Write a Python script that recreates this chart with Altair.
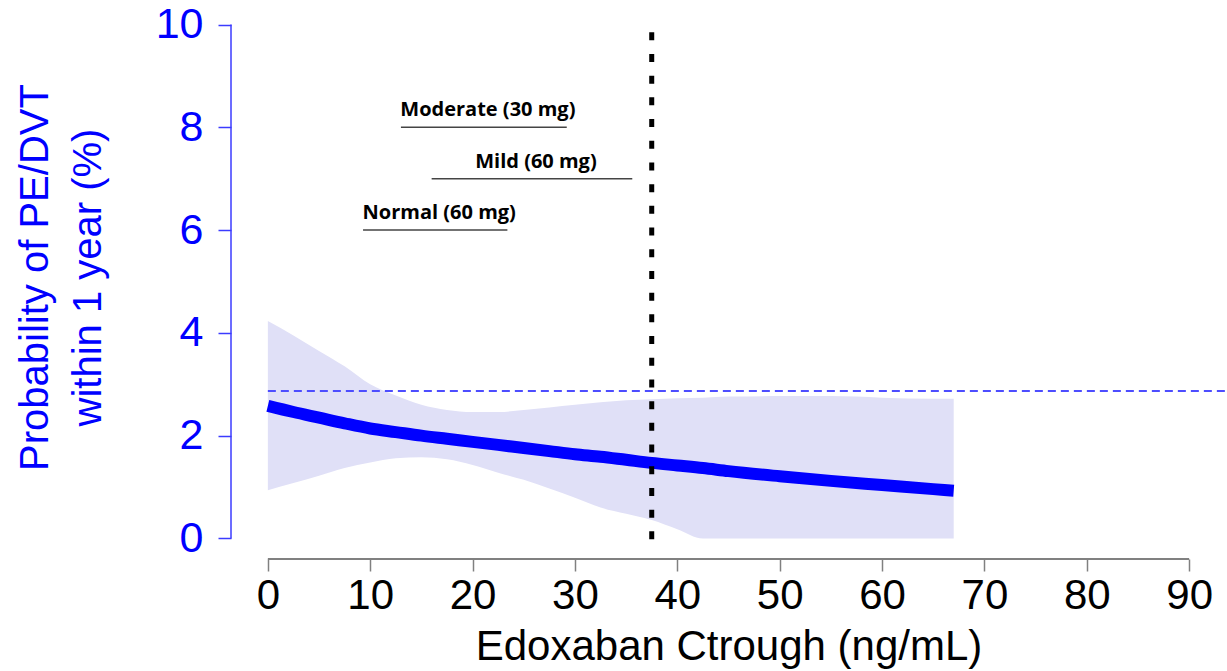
import altair as alt
import pandas as pd

# Edoxaban trough concentration grid (ng/mL)
ctrough = [0, 2.5, 5, 7.5, 10, 12.5, 15, 17.5, 20, 22.5, 25, 27.5, 30,
           32.5, 35, 37.5, 40, 42.5, 45, 50, 55, 60, 65, 67]
# Model-estimated 1-year probability of PE/DVT (%)
prob = [2.58, 2.46, 2.35, 2.24, 2.14, 2.07, 2.00, 1.94, 1.88, 1.82, 1.76, 1.70,
        1.64, 1.59, 1.53, 1.47, 1.42, 1.37, 1.31, 1.21, 1.12, 1.04, 0.96, 0.93]
# 95% confidence band (%)
lower = [0.94, 1.08, 1.22, 1.37, 1.48, 1.56, 1.58, 1.54, 1.43, 1.28, 1.14, 0.97,
         0.79, 0.60, 0.48, 0.36, 0.18, 0.00, 0.00, 0.00, 0.00, 0.00, 0.00, 0.00]
upper = [4.23, 3.95, 3.65, 3.35, 3.00, 2.78, 2.60, 2.50, 2.46, 2.46, 2.50, 2.55,
         2.60, 2.65, 2.69, 2.71, 2.73, 2.74, 2.76, 2.77, 2.77, 2.74, 2.72, 2.72]

# Reference event rate and concentration cut-off
reference_rate = 2.87
cutoff = 37.5

# Ctrough ranges by renal function group
groups = ["Moderate (30 mg)", "Mild (60 mg)", "Normal (60 mg)"]
group_lo = [13.0, 16.0, 9.3]
group_hi = [29.2, 35.6, 23.4]
group_level = [8, 7, 6]

x_ticks = [0, 10, 20, 30, 40, 50, 60, 70, 80, 90]
y_ticks = [0, 2, 4, 6, 8, 10]

X_MIN, X_MAX = -3.6, 93.6
Y_MIN, Y_MAX = -0.4, 10.4

BLUE = "#0000ff"
AXIS_BLUE = "#3b3bff"
FONT = "Liberation Sans"

curve = pd.DataFrame({"x": ctrough, "y": prob, "lo": lower, "hi": upper})
ranges = pd.DataFrame({"label": groups, "x": group_lo, "x2": group_hi, "y": group_level})
ranges["mid"] = (ranges["x"] + ranges["x2"]) / 2

xs = alt.Scale(domain=[X_MIN, X_MAX], nice=False, zero=False)
ys = alt.Scale(domain=[Y_MIN, Y_MAX], nice=False, zero=False)

X_TITLE = "Edoxaban Ctrough (ng/mL)"
Y_TITLE = ["Probability of PE/DVT", "within 1 year (%)"]

x_axis = alt.Axis(
    values=x_ticks, grid=False, domain=False, tickSize=12, tickColor="#808080",
    tickWidth=1.5, labelFont=FONT, labelFontSize=42, labelColor="black",
    labelPadding=4, title=X_TITLE, titleFont=FONT,
    titleFontSize=42, titleFontWeight="normal", titleColor="black",
    titleY=100, titleBaseline="alphabetic",
)
y_axis = alt.Axis(
    values=y_ticks, grid=False, domain=False, tickSize=13, tickColor=AXIS_BLUE,
    tickWidth=1.5, labelFont=FONT, labelFontSize=43, labelColor=BLUE,
    labelPadding=15, title=Y_TITLE,
    titleFont=FONT, titleFontSize=40, titleFontWeight="normal", titleColor=BLUE,
    titleAngle=270, titleAlign="center", titleBaseline="alphabetic",
    titleX=-184, titleY=273, titleLineHeight=53,
)


def X(field):
    return alt.X(field, scale=xs, axis=x_axis, title=X_TITLE)


def Y(field):
    return alt.Y(field, scale=ys, axis=y_axis, title=Y_TITLE)


band = alt.Chart(curve).mark_area(color="#e0e0f7", opacity=1, interpolate="monotone").encode(
    x=X("x:Q"), y=Y("lo:Q"), y2="hi:Q",
)

ref_line = alt.Chart(pd.DataFrame({"x": [0], "x2": [X_MAX], "y": [reference_rate]})).mark_rule(
    color="#4d4dff", strokeWidth=2, strokeDash=[8, 5]
).encode(x=X("x:Q"), x2="x2:Q", y=Y("y:Q"))

line = alt.Chart(curve).mark_line(
    color=BLUE, strokeWidth=12, strokeCap="butt", interpolate="monotone"
).encode(x=X("x:Q"), y=Y("y:Q"))

cut_line = alt.Chart(pd.DataFrame({"x": [cutoff], "y": [9.85], "y2": [-0.08]})).mark_rule(
    color="black", strokeWidth=5, strokeDash=[8, 13.7], strokeCap="butt"
).encode(x=X("x:Q"), y=Y("y:Q"), y2="y2:Q")

range_rules = alt.Chart(ranges).mark_rule(color="#444444", strokeWidth=1.5).encode(
    x=X("x:Q"), x2="x2:Q", y=Y("y:Q"),
)

range_text = alt.Chart(ranges).mark_text(
    font="Open Sans", fontSize=20, fontWeight="bold", color="black",
    baseline="alphabetic", align="center", dy=-11, dx=4,
).encode(x=X("mid:Q"), y=Y("y:Q"), text="label:N")

# Axis lines spanning only the tick range
y_domain = alt.Chart(pd.DataFrame({"x": [X_MIN], "y": [0], "y2": [10]})).mark_rule(
    color=AXIS_BLUE, strokeWidth=1.5
).encode(x=X("x:Q"), y=Y("y:Q"), y2="y2:Q")

x_domain = alt.Chart(pd.DataFrame({"x": [0], "x2": [90], "y": [Y_MIN]})).mark_rule(
    color="#808080", strokeWidth=2
).encode(x=X("x:Q"), x2="x2:Q", y=Y("y:Q"))

chart = alt.layer(
    band, ref_line, line, cut_line, range_rules, range_text, y_domain, x_domain
).properties(
    width=995, height=555,
    autosize=alt.AutoSizeParams(type="none"),
    padding={"left": 231, "top": 4, "right": 1, "bottom": 112},
    background="white",
).configure_view(strokeWidth=0)

chart.save("out.html", embed_options={"renderer": "svg", "actions": False})
